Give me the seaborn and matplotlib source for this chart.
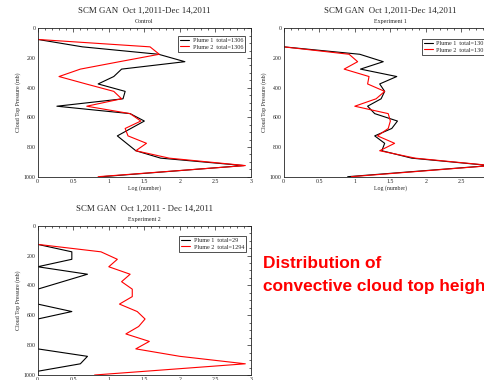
import numpy as np
import pandas as pd
import matplotlib
matplotlib.use("Agg")
import matplotlib.pyplot as plt
from matplotlib.lines import Line2D
from matplotlib.ticker import MultipleLocator
import seaborn as sns

# ── Data ─────────────────────────────────────────────────────────────────────
pres_ctrl = [75, 125, 175, 225, 275, 325, 375, 425, 475, 525, 575, 625,
             675, 725, 775, 825, 875, 925, 1000]
ctrl_p1 = [0.0, 0.63, 1.70, 2.07, 1.18, 1.07, 0.85, 1.23, 1.20, 0.27, 1.30,
           1.50, 1.31, 1.12, 1.25, 1.38, 1.73, 2.90, 0.90]
ctrl_p2 = [0.0, 1.58, 1.71, 1.15, 0.60, 0.30, 0.68, 1.07, 1.18, 0.69, 1.30,
           1.45, 1.23, 1.27, 1.53, 1.38, 1.85, 2.92, 0.85]

pres_exp1 = [125, 175, 225, 275, 325, 375, 425, 475, 525, 575, 625, 675,
             725, 775, 825, 875, 925, 1000]
exp1_p1 = [0.0, 1.07, 1.40, 1.08, 1.59, 1.35, 1.42, 1.37, 1.18, 1.28, 1.60,
           1.52, 1.28, 1.42, 1.38, 1.80, 2.90, 0.90]
exp1_p2 = [0.0, 0.92, 1.04, 0.85, 1.20, 1.18, 1.42, 1.30, 1.00, 1.47, 1.50,
           1.47, 1.32, 1.56, 1.35, 1.85, 2.92, 0.95]

pres_exp2 = [125, 175, 225, 275, 325, 375, 425, 475, 525, 575, 625, 675,
             725, 775, 825, 875, 925, 975, 1000]
exp2_p1 = [0.0, 0.48, 0.48, 0.0, 0.70, 0.35, 0.0, 0.0, 0.0, 0.48, 0.0, 0.0,
           0.0, 0.0, 0.0, 0.70, 0.60, 0.0, 0.0]
exp2_p2 = [0.0, 0.89, 1.12, 1.00, 1.30, 1.18, 1.33, 1.33, 1.15, 1.40, 1.51,
           1.42, 1.24, 1.57, 1.38, 2.00, 2.92, 1.51, 0.80]

x_ticks = [0, 0.5, 1, 1.5, 2, 2.5, 3]
x_labels = ["0", "0.5", "1", "1.5", "2", "2.5", "3"]
y_ticks = [0, 200, 400, 600, 800, 1000]
y_labels = ["0", "200", "400", "600", "800", "1000"]

panels = [
    ("SCM GAN  Oct 1,2011-Dec 14,2011", "Control", pres_ctrl, ctrl_p1, ctrl_p2,
     ["Plume 1  total=1306", "Plume 2  total=1306"]),
    ("SCM GAN  Oct 1,2011-Dec 14,2011", "Experiment 1", pres_exp1, exp1_p1, exp1_p2,
     ["Plume 1  total=1301", "Plume 2  total=1301"]),
    ("SCM GAN  Oct 1,2011 - Dec 14,2011", "Experiment 2", pres_exp2, exp2_p1, exp2_p2,
     ["Plume 1  total=29", "Plume 2  total=1294"]),
]

# ── Style ────────────────────────────────────────────────────────────────────
sns.set_style("white")
plt.rcParams["font.family"] = ["Liberation Serif", "DejaVu Serif"]

W, H = 485, 380
fig = plt.figure(figsize=(W / 100, H / 100), dpi=100)

# axes boxes in pixels: left, top, width, height
boxes = [(37.7, 28.3, 213.3, 148.4),
         (283.7, 28.3, 213.3, 148.4),
         (37.7, 225.7, 213.3, 149.3)]
legend_anchor = [(0.972, 0.948), (0.962, 0.928), (0.977, 0.931)]
palette = {"Plume 1": "black", "Plume 2": "red"}

for (title, sub, pres, p1, p2, leg), (l, t, w, h), anc in zip(panels, boxes, legend_anchor):
    ax = fig.add_axes([l / W, 1 - (t + h) / H, w / W, h / H])
    df = pd.DataFrame({"pressure": pres * 2,
                       "log_n": p1 + p2,
                       "plume": ["Plume 1"] * len(pres) + ["Plume 2"] * len(pres)})
    sns.lineplot(data=df, x="log_n", y="pressure", hue="plume", palette=palette,
                 orient="y", estimator=None, legend=False, lw=0.8, ax=ax)

    ax.set_xticks(x_ticks, x_labels)
    ax.set_yticks(y_ticks, y_labels)
    ax.xaxis.set_minor_locator(MultipleLocator(0.1))
    ax.yaxis.set_minor_locator(MultipleLocator(50))
    ax.set_xlim(0, 3)
    ax.set_ylim(1000, 0)
    ax.tick_params(which="both", direction="in", top=True, right=True,
                   labelsize=4.2, width=0.5, pad=1.5, colors="#222222")
    ax.tick_params(which="major", length=3)
    ax.tick_params(which="minor", length=1.5)
    for s in ax.spines.values():
        s.set_linewidth(0.6)
        s.set_color("#222222")
    ax.set_xlabel("Log (number)", fontsize=4.2, labelpad=1)
    ax.set_ylabel("Cloud Top Pressure (mb)", fontsize=4.2, labelpad=2)

    cx = (l + w / 2) / W
    fig.text(cx, 1 - (t - 17) / H, title, ha="center", va="center", fontsize=6.4)
    fig.text(cx, 1 - (t - 6.5) / H, sub, ha="center", va="center", fontsize=4.3)

    handles = [Line2D([], [], color="black", lw=0.8), Line2D([], [], color="red", lw=0.8)]
    lg = ax.legend(handles, leg, loc="upper right", bbox_to_anchor=anc,
                   fontsize=4.4, frameon=True, fancybox=False, handlelength=1.4,
                   handletextpad=0.6, borderpad=0.35, labelspacing=0.15,
                   borderaxespad=0)
    lg.get_frame().set_edgecolor("black")
    lg.get_frame().set_linewidth(0.6)

# red annotation
fig.text(263 / W, 1 - 268 / H, "Distribution of", color="red", fontsize=12.4,
         fontweight="bold", family=["Liberation Sans", "DejaVu Sans"], va="baseline")
fig.text(263 / W, 1 - 291.5 / H, "convective cloud top height", color="red",
         fontsize=12.4, fontweight="bold", family=["Liberation Sans", "DejaVu Sans"],
         va="baseline")

fig.savefig("out.png", dpi=100)
